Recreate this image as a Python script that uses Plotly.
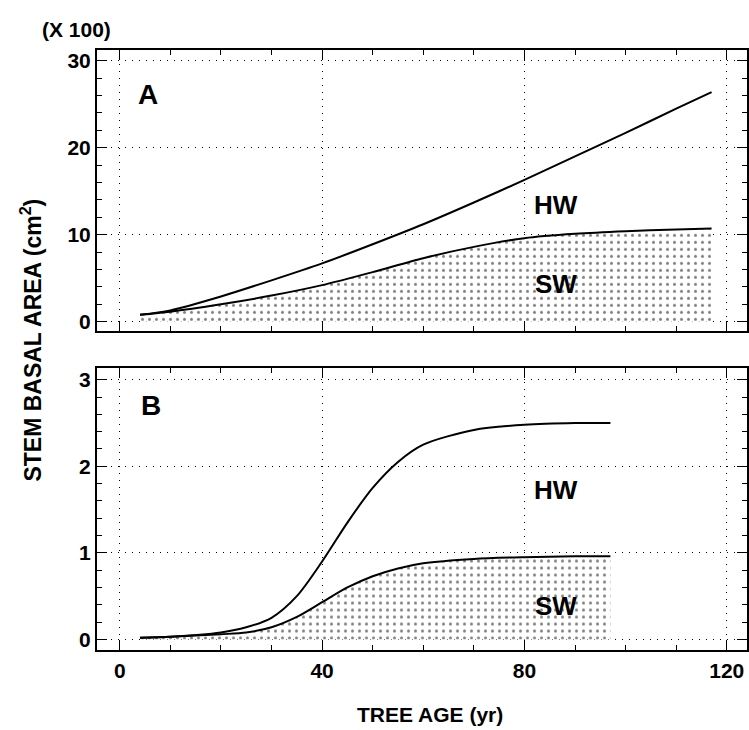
import plotly.graph_objects as go

# Panel A (units of x100 cm^2)
age_a = [4, 10, 20, 30, 40, 50, 60, 70, 80, 90, 100, 110, 117]
total_a = [0.8, 1.3, 2.9, 4.75, 6.7, 8.9, 11.2, 13.7, 16.3, 19.0, 21.7, 24.5, 26.4]
sw_a = [0.8, 1.15, 2.0, 3.0, 4.2, 5.7, 7.3, 8.6, 9.6, 10.1, 10.4, 10.6, 10.7]

# Panel B
age_b = [4, 10, 20, 25, 30, 35, 40, 45, 50, 55, 60, 70, 80, 90, 97]
total_b = [0.02, 0.03, 0.08, 0.14, 0.25, 0.5, 0.9, 1.35, 1.75, 2.05, 2.25, 2.42, 2.48, 2.5, 2.5]
sw_b = [0.02, 0.03, 0.06, 0.08, 0.14, 0.26, 0.43, 0.6, 0.73, 0.82, 0.88, 0.93, 0.95, 0.96, 0.96]

x_ticks = [0, 40, 80, 120]
ya_ticks = [0, 10, 20, 30]
yb_ticks = [0, 1, 2, 3]

FONT = "Liberation Sans"
W, H = 749, 730

fig = go.Figure()

pattern = dict(shape=".", size=7, solidity=0.15, fgcolor="black", bgcolor="white")
ln = dict(color="black", width=2, shape="spline", smoothing=0.8)

fig.add_trace(go.Scatter(x=age_a, y=sw_a, mode="lines", line=ln,
                         fill="tozeroy", fillcolor="white", fillpattern=pattern, xaxis="x", yaxis="y"))
fig.add_trace(go.Scatter(x=age_a, y=total_a, mode="lines", line=ln, xaxis="x", yaxis="y"))
fig.add_trace(go.Scatter(x=age_b, y=sw_b, mode="lines", line=ln,
                         fill="tozeroy", fillcolor="white", fillpattern=pattern, xaxis="x2", yaxis="y2"))
fig.add_trace(go.Scatter(x=age_b, y=total_b, mode="lines", line=ln, xaxis="x2", yaxis="y2"))

def px_x(p):
    return p / W

def px_y(p):
    return 1 - p / H

tickfont = dict(family=FONT, size=21, color="black", weight="bold")

common_x = dict(range=[-4.5, 124], tickvals=x_ticks, showline=True, linecolor="black", linewidth=2,
                mirror="allticks", ticks="inside", ticklen=10, tickcolor="black", tickwidth=1,
                showgrid=True, gridcolor="black", gridwidth=1, griddash="1px,6px",
                zeroline=False, tickfont=tickfont,
                minor=dict(dtick=10, ticks="inside", ticklen=5, tickcolor="black", showgrid=False))
common_y = dict(showline=True, linecolor="black", linewidth=2, mirror="allticks", ticks="inside",
                ticklen=10, tickcolor="black", tickwidth=1, showgrid=True, gridcolor="black",
                gridwidth=1, griddash="1px,6px", zeroline=False, tickfont=tickfont)

fig.update_layout(
    width=W, height=H,
    margin=dict(l=0, r=0, t=0, b=0),
    paper_bgcolor="white", plot_bgcolor="white",
    showlegend=False,
    xaxis=dict(domain=[px_x(97), px_x(747)], anchor="y", showticklabels=False, **common_x),
    yaxis=dict(domain=[px_y(331), px_y(49)], anchor="x", range=[-1.03, 31.26], tickvals=ya_ticks,
               minor=dict(dtick=2, ticks="inside", ticklen=5, tickcolor="black", showgrid=False),
               **common_y),
    xaxis2=dict(domain=[px_x(97), px_x(747)], anchor="y2", showticklabels=True, **common_x),
    yaxis2=dict(domain=[px_y(652), px_y(369)], anchor="x2", range=[-0.126, 3.13], tickvals=yb_ticks,
                minor=dict(dtick=0.2, ticks="inside", ticklen=5, tickcolor="black", showgrid=False),
                **common_y),
)

lab = dict(family=FONT, size=26, color="black", weight="bold")
big = dict(family=FONT, size=28, color="black", weight="bold")
ann = [
    dict(x=px_x(76), y=px_y(29), text="(X 100)", font=dict(family=FONT, size=21, color="black", weight="bold")),
    dict(x=px_x(148), y=px_y(94), text="A", font=big),
    dict(x=px_x(151), y=px_y(406), text="B", font=big),
    dict(x=px_x(556), y=px_y(205), text="HW", font=lab),
    dict(x=px_x(556), y=px_y(284), text="SW", font=lab),
    dict(x=px_x(556), y=px_y(491), text="HW", font=lab),
    dict(x=px_x(556), y=px_y(607), text="SW", font=lab),
    dict(x=px_x(430), y=px_y(716), text="TREE AGE (yr)", font=dict(family=FONT, size=21, color="black", weight="bold")),
    dict(x=px_x(31), y=px_y(341), text="STEM BASAL AREA (cm<sup>2</sup>)", textangle=-90,
         font=dict(family=FONT, size=23, color="black", weight="bold")),
]
for a in ann:
    a.update(xref="paper", yref="paper", showarrow=False, xanchor="center", yanchor="middle")
fig.update_layout(annotations=ann)

fig.write_html("out.html")
